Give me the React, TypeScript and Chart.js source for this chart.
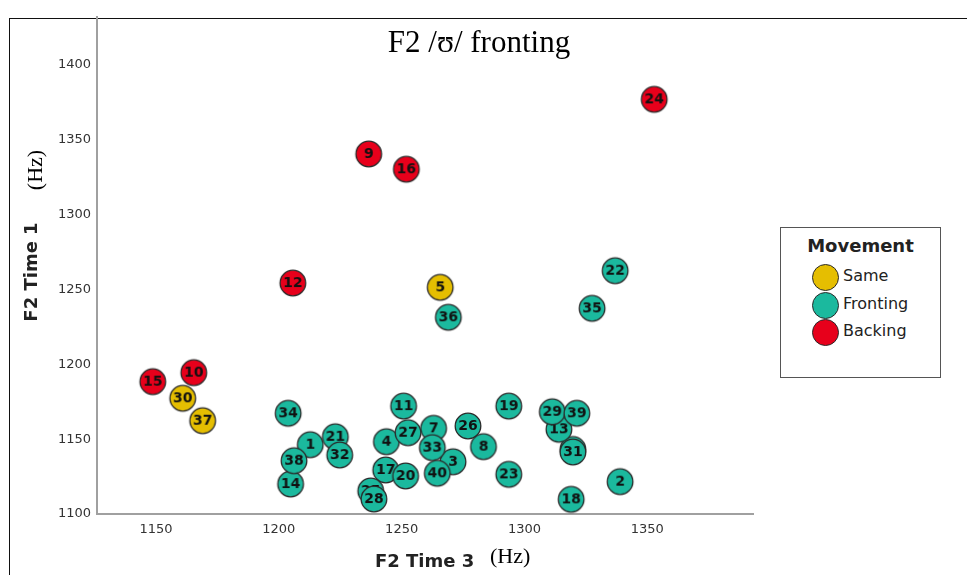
import React, { useEffect, useRef } from "react";
import { Chart, registerables } from "chart.js";
Chart.register(...registerables);

const chartTitle = "F2 /ʊ/ fronting";
const xTitle = "F2 Time 3";
const yTitle = "F2 Time 1";
const unitLabel = "(Hz)";
const legendTitle = "Movement";
const categories = ["Same", "Fronting", "Backing"];
const categoryColors = ["#E5BE01", "#1BB99E", "#E7001B"];

const xTicks = [1150, 1200, 1250, 1300, 1350];
const yTicks = [1100, 1150, 1200, 1250, 1300, 1350, 1400];

const sameIds = [5, 30, 37];
const sameX = [1265.7, 1160.9, 1169.0];
const sameY = [1251.4, 1177.3, 1162.3];

const frontingIds = [1, 2, 3, 4, 6, 7, 8, 11, 13, 14, 17, 18, 19, 20, 21, 22, 23, 25, 26, 27, 28, 29, 31, 32, 33, 34, 35, 36, 38, 39, 40];
const frontingX = [1212.8, 1338.9, 1270.9, 1243.8, 1319.7, 1263.0, 1283.3, 1250.8, 1314.0, 1204.8, 1243.5, 1319.0, 1293.6, 1251.6, 1223.0, 1336.9, 1293.6, 1237.4, 1277.0, 1252.6, 1238.7, 1311.3, 1319.7, 1224.8, 1262.5, 1203.8, 1327.5, 1269.0, 1206.2, 1321.3, 1264.5];
const frontingY = [1146.3, 1121.6, 1134.9, 1148.3, 1143.1, 1157.2, 1145.0, 1172.1, 1156.6, 1120.0, 1129.4, 1109.8, 1172.1, 1125.4, 1151.6, 1262.5, 1126.5, 1115.4, 1158.8, 1154.3, 1110.0, 1168.3, 1141.4, 1139.4, 1144.3, 1167.3, 1237.4, 1231.4, 1135.6, 1167.3, 1127.2];

const backingIds = [9, 10, 12, 15, 16, 24];
const backingX = [1236.6, 1165.4, 1205.7, 1148.7, 1251.9, 1352.8];
const backingY = [1340.5, 1194.4, 1254.3, 1188.4, 1330.3, 1377.0];

const groups = [
  { ids: sameIds, xs: sameX, ys: sameY },
  { ids: frontingIds, xs: frontingX, ys: frontingY },
  { ids: backingIds, xs: backingX, ys: backingY },
];

function makeMarker(label: string, color: string): HTMLCanvasElement {
  const c = document.createElement("canvas");
  c.width = 30;
  c.height = 30;
  const g = c.getContext("2d")!;
  g.beginPath();
  g.arc(15, 15, 12.8, 0, Math.PI * 2);
  g.fillStyle = color;
  g.fill();
  g.lineWidth = 1.3;
  g.strokeStyle = "#2a2a2a";
  g.stroke();
  g.fillStyle = "#111";
  g.font = "bold 14px 'DejaVu Sans'";
  g.textAlign = "center";
  g.textBaseline = "middle";
  g.fillText(label, 15, 15.5);
  return c;
}

export default function App() {
  const ref = useRef<HTMLCanvasElement | null>(null);

  useEffect(() => {
    if (!ref.current) return;
    const datasets = groups.map((grp, gi) => {
      const markers = grp.ids.map((id) => makeMarker(String(id), categoryColors[gi]));
      return {
        label: categories[gi],
        data: grp.ids.map((_, i) => ({ x: grp.xs[i], y: grp.ys[i] })),
        backgroundColor: categoryColors[gi],
        borderColor: "#2a2a2a",
        pointRadius: 12,
        pointStyle: (ctx: any) => (ctx.dataIndex === undefined ? "circle" : markers[ctx.dataIndex]),
      };
    });
    const chart = new Chart(ref.current, {
      type: "scatter",
      data: { datasets },
      options: {
        animation: false,
        responsive: false,
        events: [],
        layout: { padding: { left: 0, top: 17, right: 214, bottom: 0 } },
        plugins: { legend: { display: false }, tooltip: { enabled: false }, title: { display: false } },
        scales: {
          x: {
            type: "linear",
            min: 1126,
            max: 1393,
            afterBuildTicks: (s: any) => {
              s.ticks = xTicks.map((v) => ({ value: v }));
            },
            afterFit: (s: any) => {
              s.height = 61;
            },
            grid: { display: false, drawTicks: false },
            border: { display: true, color: "#a0a0a0", width: 2 },
            ticks: {
              autoSkip: false,
              maxRotation: 0,
              padding: 8,
              color: "#333",
              font: { family: "'DejaVu Sans'", size: 13 },
              callback: (v: any) => String(v),
            },
          },
          y: {
            type: "linear",
            min: 1100,
            max: 1432,
            afterBuildTicks: (s: any) => {
              s.ticks = yTicks.map((v) => ({ value: v }));
            },
            afterFit: (s: any) => {
              s.width = 97;
            },
            grid: { display: false, drawTicks: false },
            border: { display: true, color: "#a0a0a0", width: 2 },
            ticks: {
              autoSkip: false,
              padding: 6,
              color: "#333",
              font: { family: "'DejaVu Sans'", size: 13 },
              callback: (v: any) => String(v),
            },
          },
        },
      },
    });
    return () => chart.destroy();
  }, []);

  const abs: React.CSSProperties = { position: "absolute", whiteSpace: "nowrap" };

  return (
    <div style={{ position: "absolute", left: 0, top: 0, width: 967, height: 575, background: "#fff", overflow: "hidden" }}>
      <div style={{ ...abs, left: 9, top: 18, width: 970, height: 600, borderTop: "1px solid #111", borderLeft: "1px solid #111" }} />
      <canvas ref={ref} width={967} height={575} style={{ position: "absolute", left: 0, top: 0 }} />
      <div style={{ ...abs, left: 479, top: 25, transform: "translateX(-50%)", fontFamily: "'Liberation Serif'", fontSize: 31, lineHeight: "34px", color: "#000" }}>
        {chartTitle}
      </div>
      <div style={{ ...abs, left: 375, top: 551, fontFamily: "'DejaVu Sans'", fontWeight: "bold", fontSize: 18, lineHeight: "20px", color: "#222" }}>
        {xTitle}
      </div>
      <div style={{ ...abs, left: 490, top: 544, fontFamily: "'Liberation Serif'", fontSize: 22, lineHeight: "24px", color: "#000" }}>
        {unitLabel}
      </div>
      <div style={{ ...abs, left: 31, top: 272, transform: "translate(-50%, -50%) rotate(-90deg)", fontFamily: "'DejaVu Sans'", fontWeight: "bold", fontSize: 18, lineHeight: "20px", color: "#222" }}>
        {yTitle}
      </div>
      <div style={{ ...abs, left: 35, top: 170, transform: "translate(-50%, -50%) rotate(-90deg)", fontFamily: "'Liberation Serif'", fontSize: 22, lineHeight: "24px", color: "#000" }}>
        {unitLabel}
      </div>
      <div style={{ position: "absolute", left: 780, top: 227, width: 159, height: 149, border: "1.5px solid #555", background: "#fff" }}>
        <div style={{ ...abs, left: 0, width: 159, top: 7, textAlign: "center", fontFamily: "'DejaVu Sans'", fontWeight: "bold", fontSize: 18, lineHeight: "22px", color: "#222" }}>
          {legendTitle}
        </div>
        {categories.map((c, i) => (
          <div key={c}>
            <div style={{ position: "absolute", left: 31, top: 36 + i * 27.5, width: 25, height: 25, borderRadius: "50%", background: categoryColors[i], border: "1px solid #2a2a2a" }} />
            <div style={{ ...abs, left: 62, top: 38 + i * 27.5, fontFamily: "'DejaVu Sans'", fontSize: 16, lineHeight: "20px", color: "#222" }}>{c}</div>
          </div>
        ))}
      </div>
    </div>
  );
}
